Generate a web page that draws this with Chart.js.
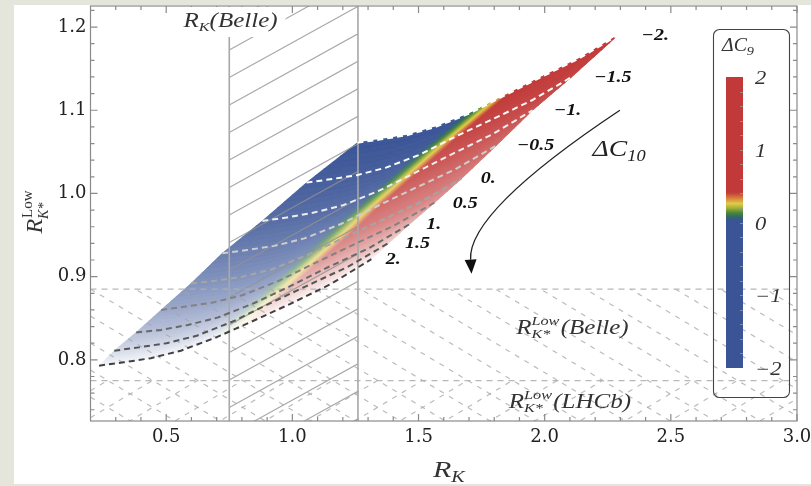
<!DOCTYPE html>
<html><head><meta charset="utf-8">
<script src="https://cdn.jsdelivr.net/npm/chart.js@4.4.1/dist/chart.umd.min.js"></script>
<style>html,body{margin:0;padding:0;background:#e4e6dc;overflow:hidden}canvas{display:block}</style>
</head><body>
<canvas id="c" width="811" height="486"></canvas>
<script>
// ---- data ----
const dC9 = [-2, -1.5, -1, -0.5, 0, 0.5, 1, 1.5, 2];
const dC10 = [-2, -1.5, -1, -0.5, 0, 0.5, 1, 1.5, 2];
// R_K for each ΔC10 row (columns follow dC9)
const rK = [
 [1.258,1.351,1.454,1.567,1.702,1.836,1.980,2.135,2.290],
 [1.056,1.150,1.256,1.371,1.508,1.644,1.792,1.950,2.107],
 [0.881,0.977,1.085,1.202,1.342,1.481,1.631,1.792,1.952],
 [0.722,0.820,0.929,1.048,1.190,1.331,1.483,1.646,1.810],
 [0.599,0.696,0.803,0.921,1.060,1.199,1.349,1.510,1.671],
 [0.480,0.578,0.686,0.805,0.946,1.087,1.239,1.401,1.564],
 [0.381,0.479,0.587,0.706,0.847,0.988,1.139,1.302,1.464],
 [0.294,0.392,0.501,0.621,0.763,0.905,1.058,1.221,1.385],
 [0.234,0.331,0.439,0.558,0.698,0.839,0.990,1.152,1.313]
];
// R_K*^Low for each ΔC10 row
const rKs = [
 [1.061,1.065,1.070,1.080,1.096,1.117,1.139,1.162,1.190],
 [1.013,1.017,1.022,1.031,1.047,1.068,1.089,1.112,1.140],
 [0.967,0.971,0.977,0.986,1.003,1.024,1.047,1.071,1.100],
 [0.928,0.932,0.937,0.946,0.963,0.984,1.006,1.029,1.058],
 [0.892,0.895,0.900,0.909,0.926,0.946,0.967,0.990,1.018],
 [0.860,0.864,0.869,0.878,0.895,0.916,0.938,0.961,0.989],
 [0.833,0.836,0.842,0.851,0.868,0.888,0.911,0.934,0.963],
 [0.811,0.815,0.820,0.829,0.846,0.867,0.889,0.912,0.941],
 [0.793,0.797,0.802,0.811,0.827,0.846,0.867,0.891,0.921]
];
const c10Labels = ['\u22122.','\u22121.5','\u22121.','\u22120.5','0.','0.5','1.','1.5','2.'];
const xTicks = [0.5, 1.0, 1.5, 2.0, 2.5, 3.0];
const yTicks = [0.8, 0.9, 1.0, 1.1, 1.2];
const xRange = [0.2, 3.0];
const yRange = [0.7265, 1.2253];
const belleRK = [0.75, 1.26];
const belleRKsLow = 0.885;
const lhcbRKsLow = 0.775;
const cbRange = [-2, 2];
const cbTicks = [2, 1, 0, -1, -2];

// ---- styling helpers ----
const SERIF = '"Liberation Serif", "Times New Roman", serif';
const SX = 1.25; // horizontal stretch of the original typesetting
function lerp(a,b,t){return a+(b-a)*t;}
const plotStops=[[-2,[58,84,150]],[-0.12,[58,84,150]],[-0.02,[48,100,112]],[0.12,[70,132,58]],[0.27,[165,178,56]],[0.37,[226,202,72]],[0.48,[216,132,62]],[0.6,[193,58,57]],[2,[193,58,57]]];
const barStops=[[-2,[58,84,150]],[0.03,[58,84,150]],[0.07,[48,100,112]],[0.13,[70,132,58]],[0.2,[165,178,56]],[0.26,[226,202,72]],[0.33,[216,132,62]],[0.41,[193,58,57]],[2,[193,58,57]]];
function colorAt(stops,v){
  for(let k=0;k<stops.length-1;k++){
    const [a,ca]=stops[k],[b,cb]=stops[k+1];
    if(v<=b){const t=b===a?0:Math.max(0,(v-a)/(b-a));return ca.map((x,i)=>lerp(x,cb[i],t));}
  }
  return stops[stops.length-1][1];
}
function fade(c10){return 0.93*Math.pow((c10+2)/4,1.4);}
function regionColor(c9,c10){const b=colorAt(plotStops,c9),w=fade(c10);return 'rgb('+b.map(x=>Math.round(x*(1-w)+255*w)).join(',')+')';}
function curveColor(i){const g=[255,252,238,205,165,130,105,85,65][i];return 'rgb('+g+','+g+','+g+')';}

function rich(ctx, parts, x, y, align, sx, rot){
  ctx.save(); ctx.translate(x,y); ctx.scale(sx||1,1); if(rot) ctx.rotate(rot);
  ctx.textBaseline='alphabetic'; ctx.textAlign='left';
  const widths=parts.map(p=>{
    if(p.stack){ctx.font=p.sup.f;const a=ctx.measureText(p.sup.t).width;ctx.font=p.sub.f;const b=ctx.measureText(p.sub.t).width;return Math.max(a+(p.sup.dx||0),b+(p.sub.dx||0));}
    ctx.font=p.f;return ctx.measureText(p.t).width+(p.dx||0);
  });
  const W=widths.reduce((s,v)=>s+v,0);
  let cx=align==='center'?-W/2:align==='right'?-W:0;
  parts.forEach((p,k)=>{
    if(p.stack){
      ctx.font=p.sup.f;ctx.fillText(p.sup.t,cx+(p.sup.dx||0),p.sup.dy);
      ctx.font=p.sub.f;ctx.fillText(p.sub.t,cx+(p.sub.dx||0),p.sub.dy);
    } else {ctx.font=p.f;ctx.fillText(p.t,cx+(p.dx||0),p.dy||0);}
    cx+=widths[k];
  });
  ctx.restore();
}
function hatch(ctx, rect, slope, spacing, px0, py0, dash, color, lw){
  const [rx,ry,rw,rh]=rect;
  ctx.save(); ctx.beginPath(); ctx.rect(rx,ry,rw,rh); ctx.clip();
  ctx.setLineDash(dash); ctx.strokeStyle=color; ctx.lineWidth=lw;
  for(let k=-300;k<=300;k++){
    const y1=py0+k*spacing+slope*(rx-px0), y2=py0+k*spacing+slope*(rx+rw-px0);
    if(Math.max(y1,y2)<ry||Math.min(y1,y2)>ry+rh) continue;
    ctx.beginPath(); ctx.moveTo(rx,y1); ctx.lineTo(rx+rw,y2); ctx.stroke();
  }
  ctx.restore();
}

// ---- plugins ----
const bgPlugin={id:'bg',beforeDraw(chart){const c=chart.ctx;c.save();c.fillStyle='#e4e6dc';c.fillRect(0,0,chart.width,chart.height);c.fillStyle='#ffffff';c.fillRect(14,5,chart.width-14,479);c.restore();}};

const regionPlugin={id:'region',beforeDatasetsDraw(chart){
  const ctx=chart.ctx,xs=chart.scales.x,ys=chart.scales.y,a=chart.chartArea;
  ctx.save(); ctx.beginPath(); ctx.rect(a.left,a.top,a.right-a.left,a.bottom-a.top); ctx.clip();
  const P=(i,j)=>[xs.getPixelForValue(rK[i][j]),ys.getPixelForValue(rKs[i][j])];
  const NU=18,NV=6;
  for(let i=0;i<dC10.length-1;i++){for(let j=0;j<dC9.length-1;j++){
    const p00=P(i,j),p01=P(i,j+1),p10=P(i+1,j),p11=P(i+1,j+1);
    const B=(u,v)=>[0,1].map(k=>(1-u)*(1-v)*p00[k]+u*(1-v)*p01[k]+(1-u)*v*p10[k]+u*v*p11[k]);
    for(let va=0;va<NV;va++){for(let ub=0;ub<NU;ub++){
      const u0=ub/NU,u1=(ub+1)/NU,v0=va/NV,v1=(va+1)/NV;
      const q=[B(u0,v0),B(u1,v0),B(u1,v1),B(u0,v1)];
      const c9=lerp(dC9[j],dC9[j+1],(u0+u1)/2), c10=lerp(dC10[i],dC10[i+1],(v0+v1)/2);
      const col=regionColor(c9,c10);
      ctx.fillStyle=col; ctx.strokeStyle=col; ctx.lineWidth=0.7;
      ctx.beginPath(); ctx.moveTo(q[0][0],q[0][1]); for(let k=1;k<4;k++) ctx.lineTo(q[k][0],q[k][1]); ctx.closePath(); ctx.fill(); ctx.stroke();
    }}
  }}
  ctx.restore();
  // hatched experimental regions
  const xL=xs.getPixelForValue(belleRK[0]), xR=xs.getPixelForValue(belleRK[1]);
  const yB=ys.getPixelForValue(belleRKsLow), yH=ys.getPixelForValue(lhcbRKsLow);
  const W=a.right-a.left;
  hatch(ctx,[xL,a.top,xR-xL,a.bottom-a.top],-0.553,27.5,xL,50,[],'rgba(145,145,145,0.8)',1.1);
  hatch(ctx,[a.left,yB,W,a.bottom-yB],0.6,27,a.left,yB,[5,6],'rgba(165,165,165,0.75)',1.2);
  hatch(ctx,[a.left,yH,W,a.bottom-yH],-0.6,27,a.left,yH+10,[5,6],'rgba(165,165,165,0.75)',1.2);
  ctx.save();
  ctx.strokeStyle='rgba(175,175,175,0.9)'; ctx.lineWidth=1.3; ctx.setLineDash([6,5]);
  [yB,yH].forEach(y=>{ctx.beginPath();ctx.moveTo(a.left,y);ctx.lineTo(a.right,y);ctx.stroke();});
  ctx.setLineDash([]); ctx.strokeStyle='#a8a8a8'; ctx.lineWidth=1.6;
  ctx.beginPath(); ctx.moveTo(xL,a.bottom); ctx.lineTo(xL,a.top); ctx.moveTo(xR,a.bottom); ctx.lineTo(xR,a.top); ctx.stroke();
  ctx.restore();
}};

const overlayPlugin={id:'overlay',afterDatasetsDraw(chart){
  const ctx=chart.ctx,xs=chart.scales.x,ys=chart.scales.y,a=chart.chartArea;
  // frame and inward ticks
  ctx.save();
  ctx.strokeStyle='#8a8a8a'; ctx.lineWidth=1.2;
  ctx.strokeRect(a.left,a.top,a.right-a.left,a.bottom-a.top);
  ctx.beginPath();
  for(let v=0.3;v<3.0001;v+=0.1){const px=xs.getPixelForValue(v);const maj=xTicks.some(t=>Math.abs(t-v)<1e-6);const L=maj?7:4;ctx.moveTo(px,a.bottom);ctx.lineTo(px,a.bottom-L);ctx.moveTo(px,a.top);ctx.lineTo(px,a.top+L);}
  for(let v=0.74;v<1.2201;v+=0.02){const py=ys.getPixelForValue(v);const maj=yTicks.some(t=>Math.abs(t-v)<1e-6);const L=maj?7:4;ctx.moveTo(a.left,py);ctx.lineTo(a.left+L,py);ctx.moveTo(a.right,py);ctx.lineTo(a.right-L,py);}
  ctx.stroke();
  ctx.restore();

  ctx.save(); ctx.fillStyle='#222';
  // R_K(Belle) label with white background
  const lx=xs.getPixelForValue(0.755), ly=ys.getPixelForValue(1.2005);
  ctx.fillStyle='#fff'; ctx.fillRect(lx-51,a.top+1,106,30);
  ctx.fillStyle='#333';
  rich(ctx,[{t:'R',f:'italic 20px '+SERIF},{t:'K',f:'italic 13px '+SERIF,dy:4},{t:'(Belle)',f:'italic 20px '+SERIF}],lx,ly,'center',SX);
  // R_K*^Low labels
  const lowParts=(tag)=>[{t:'R',f:'italic 20px '+SERIF},{stack:true,sup:{t:'Low',f:'italic 13px '+SERIF,dy:-9},sub:{t:'K*',f:'italic 13px '+SERIF,dy:4}},{t:tag,f:'italic 20px '+SERIF,dx:1}];
  rich(ctx,lowParts('(Belle)'),xs.getPixelForValue(2.11),ys.getPixelForValue(0.831),'center',SX);
  rich(ctx,lowParts('(LHCb)'),xs.getPixelForValue(2.10),ys.getPixelForValue(0.7425),'center',SX);
  // axis titles
  ctx.fillStyle='#333';
  rich(ctx,[{t:'R',f:'italic 24px '+SERIF},{t:'K',f:'italic 16px '+SERIF,dy:5}],(a.left+a.right)/2+5,477,'center',SX);
  rich(ctx,[{t:'R',f:'italic 24px '+SERIF},{stack:true,sup:{t:'Low',f:'15px '+SERIF,dy:-10,dx:1},sub:{t:'K*',f:'italic 14px '+SERIF,dy:6}}],42,212,'center',1.0,-Math.PI/2);
  // curve labels (left-aligned just beyond the ΔC9 = 2 end of each curve)
  ctx.fillStyle='#111';
  dC10.forEach((c,i)=>{const ex=xs.getPixelForValue(rK[i][dC9.length-1]),ey=ys.getPixelForValue(rKs[i][dC9.length-1]);
    rich(ctx,[{t:c10Labels[i],f:'italic bold 16px '+SERIF}],ex+24-1.2*i,ey+5,'left',SX);});
  // ΔC10 text and arrow
  ctx.fillStyle='#222';
  rich(ctx,[{t:'\u0394C',f:'italic 24px '+SERIF},{t:'10',f:'italic 16px '+SERIF,dy:5}],xs.getPixelForValue(2.19),ys.getPixelForValue(1.0446),'left',1.15);
  const s=[xs.getPixelForValue(2.298),ys.getPixelForValue(1.100)], cp=[xs.getPixelForValue(1.694),ys.getPixelForValue(0.978)], e=[xs.getPixelForValue(1.710),ys.getPixelForValue(0.9036)];
  const dir=[e[0]-cp[0],e[1]-cp[1]], dl=Math.hypot(dir[0],dir[1]), ux=dir[0]/dl, uy=dir[1]/dl;
  const hb=[e[0]-ux*14,e[1]-uy*14];
  ctx.strokeStyle='#222'; ctx.lineWidth=1.3;
  ctx.beginPath(); ctx.moveTo(s[0],s[1]); ctx.quadraticCurveTo(cp[0],cp[1],hb[0],hb[1]); ctx.stroke();
  ctx.beginPath(); ctx.moveTo(e[0],e[1]); ctx.lineTo(hb[0]-uy*6,hb[1]+ux*6); ctx.lineTo(hb[0]+uy*6,hb[1]-ux*6); ctx.closePath(); ctx.fillStyle='#111'; ctx.fill();
  ctx.restore();

  // colour bar legend
  ctx.save();
  const bx=726,bw=17,bt=77,bb=368;
  ctx.strokeStyle='#444'; ctx.lineWidth=1.1;
  ctx.beginPath(); ctx.roundRect(713.5,29.5,76,368,6); ctx.stroke();
  const g=ctx.createLinearGradient(0,bt,0,bb);
  for(let k=0;k<=200;k++){const v=lerp(cbRange[1],cbRange[0],k/200);const c=colorAt(barStops,v);g.addColorStop(k/200,'rgb('+c.map(Math.round).join(',')+')');}
  ctx.fillStyle=g; ctx.fillRect(bx,bt,bw,bb-bt);
  const cbY=v=>lerp(bt,bb,(cbRange[1]-v)/(cbRange[1]-cbRange[0]));
  ctx.strokeStyle='rgba(150,150,150,0.8)'; ctx.lineWidth=1; ctx.beginPath();
  for(let v=-1.8;v<1.9;v+=0.2){const y=Math.round(cbY(v))+0.5;ctx.moveTo(bx+bw-3,y);ctx.lineTo(bx+bw,y);}
  ctx.stroke();
  ctx.fillStyle='#333';
  cbTicks.forEach(v=>{rich(ctx,[{t:(v<0?'\u2212':'')+Math.abs(v),f:'italic 18px '+SERIF}],755,cbY(v)+7,'left',SX);});
  rich(ctx,[{t:'\u0394C',f:'italic 18px '+SERIF},{t:'9',f:'italic 13px '+SERIF,dy:4}],738,51,'center',1.1);
  ctx.restore();
}};

new Chart(document.getElementById('c'),{
  type:'scatter',
  data:{datasets:dC10.map((c10,i)=>({
    label:'\u0394C10 = '+c10,
    data:dC9.map((c9,j)=>({x:rK[i][j],y:rKs[i][j]})),
    showLine:true,borderColor:curveColor(i),borderWidth:2,borderDash:[6,4],
    pointRadius:0,pointHoverRadius:0,fill:false,tension:0
  }))},
  options:{
    responsive:false,animation:false,devicePixelRatio:1,
    layout:{padding:{left:0,right:14,top:6,bottom:0}},
    plugins:{legend:{display:false},tooltip:{enabled:false}},
    scales:{
      x:{type:'linear',min:xRange[0],max:xRange[1],
         afterFit:s=>{s.height=65;s.paddingLeft=0;s.paddingRight=0;},
         afterBuildTicks:s=>{s.ticks=xTicks.map(v=>({value:v}));},
         grid:{display:false,drawTicks:false},border:{display:false},
         ticks:{font:{family:'DejaVu Serif',size:18},color:'#222',padding:6,maxRotation:0,autoSkip:false,callback:v=>Number(v).toFixed(1)}},
      y:{type:'linear',min:yRange[0],max:yRange[1],
         afterFit:s=>{s.width=90.5;s.paddingTop=0;s.paddingBottom=0;},
         afterBuildTicks:s=>{s.ticks=yTicks.map(v=>({value:v}));},
         grid:{display:false,drawTicks:false},border:{display:false},
         ticks:{font:{family:'DejaVu Serif',size:18},color:'#222',padding:4,autoSkip:false,callback:v=>Number(v).toFixed(1)}}
    }
  },
  plugins:[bgPlugin,regionPlugin,overlayPlugin]
});
</script>
</body></html>
